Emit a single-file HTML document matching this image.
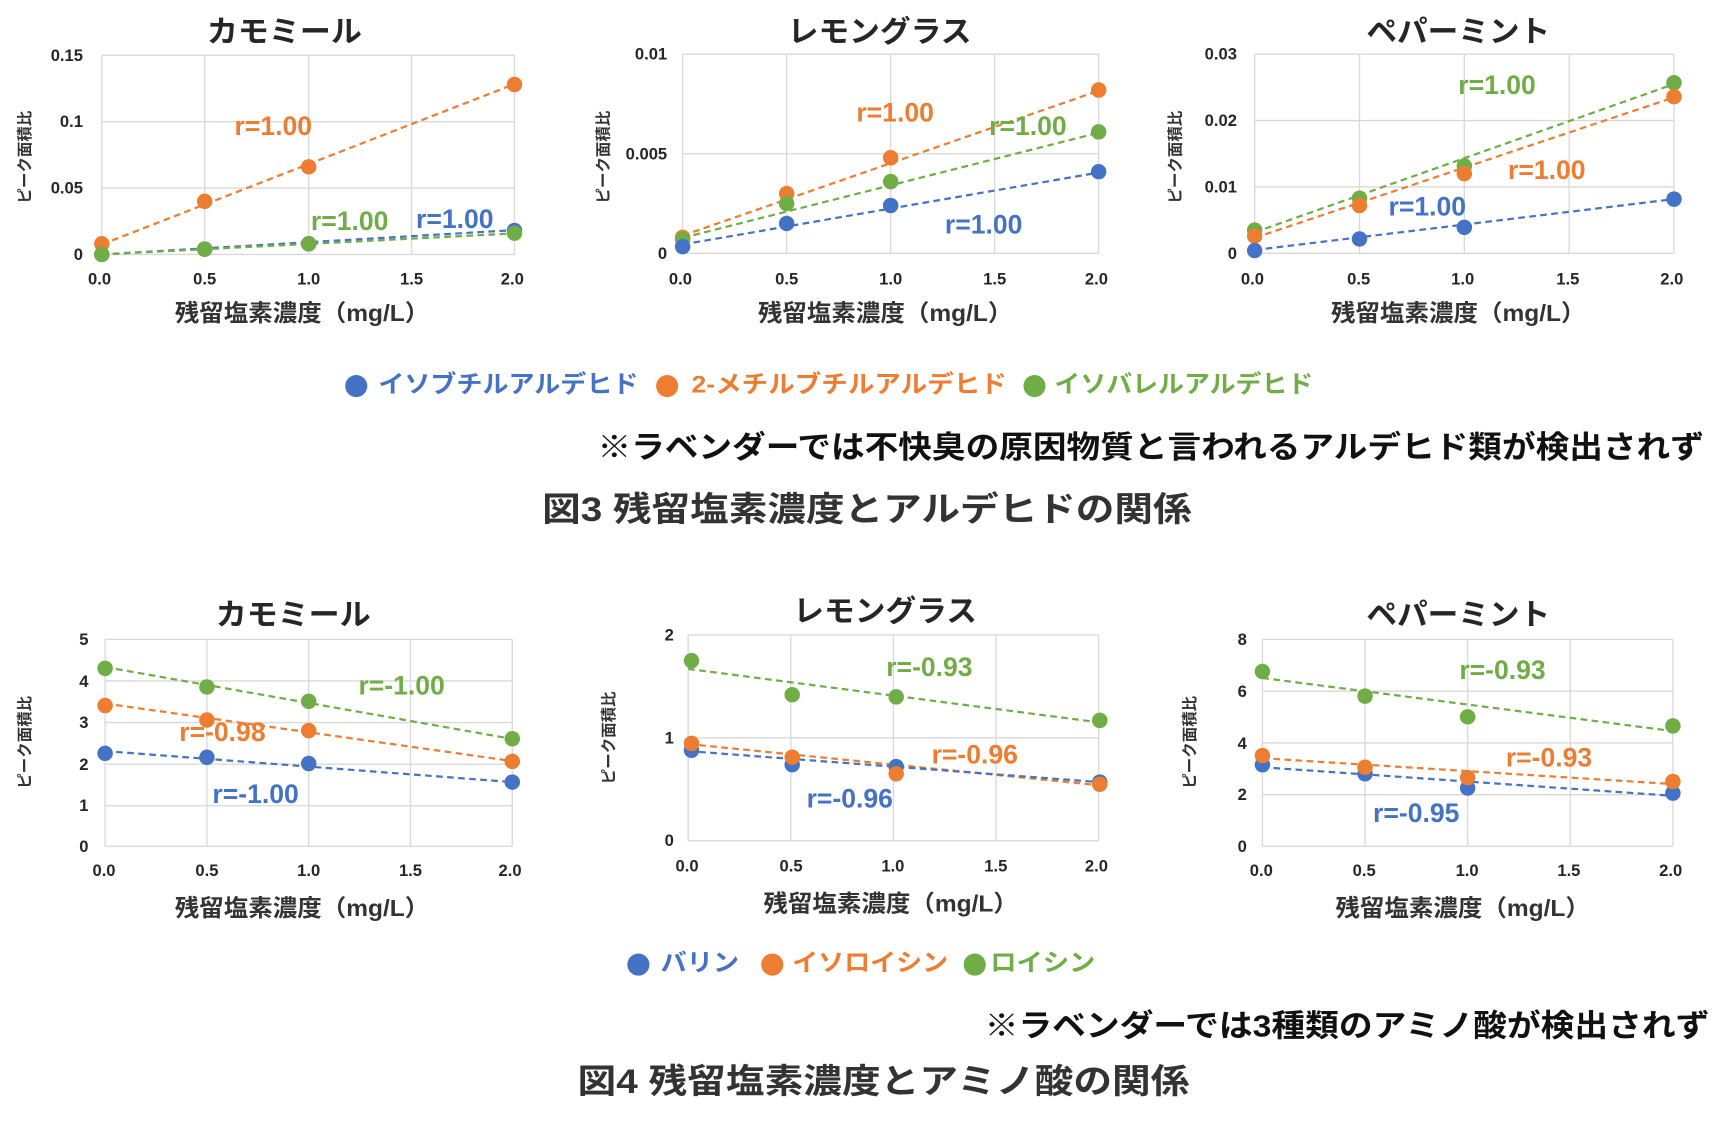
<!DOCTYPE html>
<html><head><meta charset="utf-8"><style>
html,body{margin:0;padding:0;background:#fff;width:1726px;height:1125px;overflow:hidden}
svg{display:block}
text{font-family:"Liberation Sans","Noto Sans CJK JP",sans-serif;font-weight:bold}
.t{font-size:27px;fill:#262626;text-anchor:middle}
.k{font-size:15px;fill:#262626}
.ky{text-anchor:end}
.kx{text-anchor:middle}
.ax{font-size:21px;fill:#333;text-anchor:middle}
.yl{font-size:14px;fill:#333;text-anchor:middle}
.g{stroke:#d9d9d9;stroke-width:1.2;fill:none}
.B{fill:#4472C4}.O{fill:#ED7D31}.G{fill:#70AD47}
.lB{stroke:#4472C4}.lO{stroke:#ED7D31}.lG{stroke:#70AD47}
line.d{stroke-width:2;stroke-dasharray:6 4}
.r{font-size:24px}
</style></head><body>
<svg width="1726" height="1125" viewBox="0 0 1560 1017" preserveAspectRatio="none">
<!-- ===== TOP CHART 1 ===== -->
<text class="t" x="257" y="38" textLength="140" lengthAdjust="spacingAndGlyphs">カモミール</text>
<g class="g"><path d="M92 50V230M185 50V230M279 50V230M372 50V230M465 50V230M92 50H465M92 110H465M92 170H465M92 230H465"/></g>
<g class="k ky"><text x="75" y="55">0.15</text><text x="75" y="115">0.1</text><text x="75" y="175">0.05</text><text x="75" y="235">0</text></g>
<g class="k kx"><text x="90" y="257">0.0</text><text x="185" y="257">0.5</text><text x="279" y="257">1.0</text><text x="372" y="257">1.5</text><text x="463" y="257">2.0</text></g>
<text class="ax" x="273" y="290" textLength="230" lengthAdjust="spacingAndGlyphs">残留塩素濃度（mg/L）</text>
<text class="yl" transform="translate(27,142) rotate(-90)">ピーク面積比</text>
<line class="d lO" x1="92" y1="221" x2="465" y2="76"/>
<line class="d lB" x1="92" y1="230" x2="465" y2="208"/>
<line class="d lG" x1="92" y1="230" x2="465" y2="211"/>
<g class="O"><circle cx="92" cy="220.4" r="7"/><circle cx="185" cy="182" r="7"/><circle cx="279" cy="150.8" r="7"/><circle cx="465" cy="76.4" r="7"/></g>
<g class="B"><circle cx="92" cy="230" r="7"/><circle cx="185" cy="225.2" r="7"/><circle cx="279" cy="220.4" r="7"/><circle cx="465" cy="208.4" r="7"/></g>
<g class="G"><circle cx="92" cy="230" r="7"/><circle cx="185" cy="225.2" r="7"/><circle cx="279" cy="220.4" r="7"/><circle cx="465" cy="210.8" r="7"/></g>
<text class="r O" x="212" y="122">r=1.00</text>
<text class="r G" x="281" y="208">r=1.00</text>
<text class="r B" x="376" y="206">r=1.00</text>

<!-- ===== TOP CHART 2 ===== -->
<text class="t" x="795" y="38" textLength="166" lengthAdjust="spacingAndGlyphs">レモングラス</text>
<g class="g"><path d="M617 49V229M711 49V229M805 49V229M899 49V229M993 49V229M617 49H993M617 139H993M617 229H993"/></g>
<g class="k ky"><text x="603" y="54">0.01</text><text x="603" y="144">0.005</text><text x="603" y="234">0</text></g>
<g class="k kx"><text x="615" y="257">0.0</text><text x="711" y="257">0.5</text><text x="805" y="257">1.0</text><text x="899" y="257">1.5</text><text x="991" y="257">2.0</text></g>
<text class="ax" x="800" y="290" textLength="230" lengthAdjust="spacingAndGlyphs">残留塩素濃度（mg/L）</text>
<text class="yl" transform="translate(550,142) rotate(-90)">ピーク面積比</text>
<line class="d lO" x1="617" y1="213" x2="993" y2="82"/>
<line class="d lG" x1="617" y1="215" x2="993" y2="120"/>
<line class="d lB" x1="617" y1="221" x2="993" y2="156"/>
<g class="O"><circle cx="617" cy="214.6" r="7"/><circle cx="711" cy="175" r="7"/><circle cx="805" cy="142.6" r="7"/><circle cx="993" cy="81.4" r="7"/></g>
<g class="G"><circle cx="617" cy="216.4" r="7"/><circle cx="711" cy="184" r="7"/><circle cx="805" cy="164.2" r="7"/><circle cx="993" cy="119.2" r="7"/></g>
<g class="B"><circle cx="617" cy="223" r="7"/><circle cx="711" cy="202" r="7"/><circle cx="805" cy="185.8" r="7"/><circle cx="993" cy="155.2" r="7"/></g>
<text class="r O" x="774" y="110">r=1.00</text>
<text class="r G" x="894" y="122">r=1.00</text>
<text class="r B" x="854" y="211">r=1.00</text>

<!-- ===== TOP CHART 3 ===== -->
<text class="t" x="1318" y="38" textLength="166" lengthAdjust="spacingAndGlyphs">ペパーミント</text>
<g class="g"><path d="M1134 49V229M1228.75 49V229M1323.5 49V229M1418.25 49V229M1513 49V229M1134 49H1513M1134 109H1513M1134 169H1513M1134 229H1513"/></g>
<g class="k ky"><text x="1118" y="54">0.03</text><text x="1118" y="114">0.02</text><text x="1118" y="174">0.01</text><text x="1118" y="234">0</text></g>
<g class="k kx"><text x="1132" y="257">0.0</text><text x="1228" y="257">0.5</text><text x="1322" y="257">1.0</text><text x="1417" y="257">1.5</text><text x="1511" y="257">2.0</text></g>
<text class="ax" x="1318" y="290" textLength="230" lengthAdjust="spacingAndGlyphs">残留塩素濃度（mg/L）</text>
<text class="yl" transform="translate(1067,142) rotate(-90)">ピーク面積比</text>
<line class="d lG" x1="1134" y1="210" x2="1513" y2="76"/>
<line class="d lO" x1="1134" y1="215" x2="1513" y2="88"/>
<line class="d lB" x1="1134" y1="226" x2="1513" y2="180"/>
<g class="G"><circle cx="1134" cy="208" r="7"/><circle cx="1228.75" cy="179.2" r="7"/><circle cx="1323.5" cy="150" r="7"/><circle cx="1513" cy="74.8" r="7"/></g>
<g class="O"><circle cx="1134" cy="213.4" r="7"/><circle cx="1228.75" cy="185.8" r="7"/><circle cx="1323.5" cy="157" r="7"/><circle cx="1513" cy="87.4" r="7"/></g>
<g class="B"><circle cx="1134" cy="226.5" r="7"/><circle cx="1228.75" cy="216" r="7"/><circle cx="1323.5" cy="205.5" r="7"/><circle cx="1513" cy="180" r="7"/></g>
<text class="r G" x="1318" y="85">r=1.00</text>
<text class="r O" x="1363" y="162">r=1.00</text>
<text class="r B" x="1255" y="195">r=1.00</text>

<!-- legend 1 -->
<circle class="B" cx="322" cy="349" r="10"/><text class="B" x="342" y="355" font-size="22" textLength="235" lengthAdjust="spacingAndGlyphs">イソブチルアルデヒド</text>
<circle class="O" cx="603" cy="349" r="10"/><text class="O" x="625" y="355" font-size="22" textLength="285" lengthAdjust="spacingAndGlyphs">2-メチルブチルアルデヒド</text>
<circle class="G" cx="935" cy="349" r="10"/><text class="G" x="953" y="355" font-size="22" textLength="234" lengthAdjust="spacingAndGlyphs">イソバレルアルデヒド</text>
<text x="540" y="414" font-size="28" fill="#111" textLength="1000" lengthAdjust="spacingAndGlyphs">※ラベンダーでは不快臭の原因物質と言われるアルデヒド類が検出されず</text>
<text x="490" y="471" font-size="31" fill="#333" textLength="587" lengthAdjust="spacingAndGlyphs">図3  残留塩素濃度とアルデヒドの関係</text>

<!-- ===== BOTTOM CHART 1 ===== -->
<text class="t" x="265" y="565" textLength="140" lengthAdjust="spacingAndGlyphs">カモミール</text>
<g class="g"><path d="M95 578V765M187 578V765M279 578V765M371 578V765M463 578V765M95 578H463M95 615.6H463M95 653.2H463M95 690.8H463M95 728.4H463M95 765H463"/></g>
<g class="k ky"><text x="80" y="583">5</text><text x="80" y="621">4</text><text x="80" y="658">3</text><text x="80" y="696">2</text><text x="80" y="733">1</text><text x="80" y="770">0</text></g>
<g class="k kx"><text x="94" y="792">0.0</text><text x="187" y="792">0.5</text><text x="279" y="792">1.0</text><text x="371" y="792">1.5</text><text x="461" y="792">2.0</text></g>
<text class="ax" x="273" y="828" textLength="230" lengthAdjust="spacingAndGlyphs">残留塩素濃度（mg/L）</text>
<text class="yl" transform="translate(27,671) rotate(-90)">ピーク面積比</text>
<line class="d lG" x1="95" y1="603" x2="463" y2="668"/>
<line class="d lO" x1="95" y1="636" x2="463" y2="688"/>
<line class="d lB" x1="95" y1="679" x2="463" y2="707"/>
<g class="G"><circle cx="95" cy="604.2" r="7"/><circle cx="187" cy="621" r="7"/><circle cx="279" cy="634" r="7"/><circle cx="463" cy="667.8" r="7"/></g>
<g class="O"><circle cx="95" cy="637.8" r="7"/><circle cx="187" cy="650.9" r="7"/><circle cx="279" cy="660.5" r="7"/><circle cx="463" cy="688.3" r="7"/></g>
<g class="B"><circle cx="95" cy="681" r="7"/><circle cx="187" cy="684.6" r="7"/><circle cx="279" cy="690.2" r="7"/><circle cx="463" cy="707" r="7"/></g>
<text class="r G" x="324" y="628">r=-1.00</text>
<text class="r O" x="162" y="670">r=-0.98</text>
<text class="r B" x="192" y="726">r=-1.00</text>

<!-- ===== BOTTOM CHART 2 ===== -->
<text class="t" x="800" y="562" textLength="166" lengthAdjust="spacingAndGlyphs">レモングラス</text>
<g class="g"><path d="M622 574V760M714.75 574V760M807.5 574V760M900.25 574V760M993 574V760M622 574H993M622 667H993M622 760H993"/></g>
<g class="k ky"><text x="609" y="579">2</text><text x="609" y="672">1</text><text x="609" y="765">0</text></g>
<g class="k kx"><text x="621" y="788">0.0</text><text x="715" y="788">0.5</text><text x="807" y="788">1.0</text><text x="900" y="788">1.5</text><text x="991" y="788">2.0</text></g>
<text class="ax" x="805" y="824" textLength="230" lengthAdjust="spacingAndGlyphs">残留塩素濃度（mg/L）</text>
<text class="yl" transform="translate(555,667) rotate(-90)">ピーク面積比</text>
<line class="d lG" x1="622" y1="604.7" x2="993" y2="653"/>
<line class="d lO" x1="622" y1="672.6" x2="993" y2="709.8"/>
<line class="d lB" x1="622" y1="679" x2="993" y2="707"/>
<g class="G"><circle cx="625" cy="597.25" r="7"/><circle cx="716" cy="628" r="7"/><circle cx="810" cy="630" r="7"/><circle cx="994" cy="651.2" r="7"/></g>
<g class="B"><circle cx="625" cy="678.2" r="7"/><circle cx="716" cy="691.2" r="7"/><circle cx="810" cy="693" r="7"/><circle cx="994" cy="707" r="7"/></g>
<g class="O"><circle cx="625" cy="672" r="7"/><circle cx="716" cy="684.5" r="7"/><circle cx="810" cy="699.5" r="7"/><circle cx="994" cy="709" r="7"/></g>
<text class="r G" x="801" y="611">r=-0.93</text>
<text class="r O" x="842" y="690">r=-0.96</text>
<text class="r B" x="729" y="730">r=-0.96</text>

<!-- ===== BOTTOM CHART 3 ===== -->
<text class="t" x="1318" y="565" textLength="166" lengthAdjust="spacingAndGlyphs">ペパーミント</text>
<g class="g"><path d="M1141 578V765M1233.75 578V765M1326.5 578V765M1419.25 578V765M1512 578V765M1141 578H1512M1141 624.8H1512M1141 671.6H1512M1141 718.4H1512M1141 765H1512"/></g>
<g class="k ky"><text x="1127" y="583">8</text><text x="1127" y="630">6</text><text x="1127" y="677">4</text><text x="1127" y="723">2</text><text x="1127" y="770">0</text></g>
<g class="k kx"><text x="1140" y="792">0.0</text><text x="1233" y="792">0.5</text><text x="1326" y="792">1.0</text><text x="1418" y="792">1.5</text><text x="1510" y="792">2.0</text></g>
<text class="ax" x="1322" y="828" textLength="230" lengthAdjust="spacingAndGlyphs">残留塩素濃度（mg/L）</text>
<text class="yl" transform="translate(1080,671) rotate(-90)">ピーク面積比</text>
<line class="d lG" x1="1141" y1="612.9" x2="1512" y2="660.9"/>
<line class="d lO" x1="1141" y1="685.4" x2="1512" y2="708.8"/>
<line class="d lB" x1="1141" y1="693.6" x2="1512" y2="719.4"/>
<g class="G"><circle cx="1141" cy="607" r="7"/><circle cx="1233.75" cy="629.3" r="7"/><circle cx="1326.5" cy="648" r="7"/><circle cx="1512" cy="656.2" r="7"/></g>
<g class="B"><circle cx="1141" cy="691.3" r="7"/><circle cx="1233.75" cy="699.5" r="7"/><circle cx="1326.5" cy="712.4" r="7"/><circle cx="1512" cy="717" r="7"/></g>
<g class="O"><circle cx="1141" cy="683.1" r="7"/><circle cx="1233.75" cy="693.6" r="7"/><circle cx="1326.5" cy="703" r="7"/><circle cx="1512" cy="706.5" r="7"/></g>
<text class="r G" x="1319" y="614">r=-0.93</text>
<text class="r O" x="1361" y="693">r=-0.93</text>
<text class="r B" x="1241" y="743">r=-0.95</text>

<!-- legend 2 -->
<circle class="B" cx="577" cy="872" r="10"/><text class="B" x="597" y="878" font-size="22" textLength="71" lengthAdjust="spacingAndGlyphs">バリン</text>
<circle class="O" cx="698" cy="872" r="10"/><text class="O" x="716" y="878" font-size="22" textLength="141" lengthAdjust="spacingAndGlyphs">イソロイシン</text>
<circle class="G" cx="881" cy="872" r="10"/><text class="G" x="895" y="878" font-size="22" textLength="95" lengthAdjust="spacingAndGlyphs">ロイシン</text>
<text x="890" y="937" font-size="28" fill="#111" textLength="655" lengthAdjust="spacingAndGlyphs">※ラベンダーでは3種類のアミノ酸が検出されず</text>
<text x="522" y="988" font-size="31" fill="#333" textLength="553" lengthAdjust="spacingAndGlyphs">図4  残留塩素濃度とアミノ酸の関係</text>
</svg>
</body></html>
